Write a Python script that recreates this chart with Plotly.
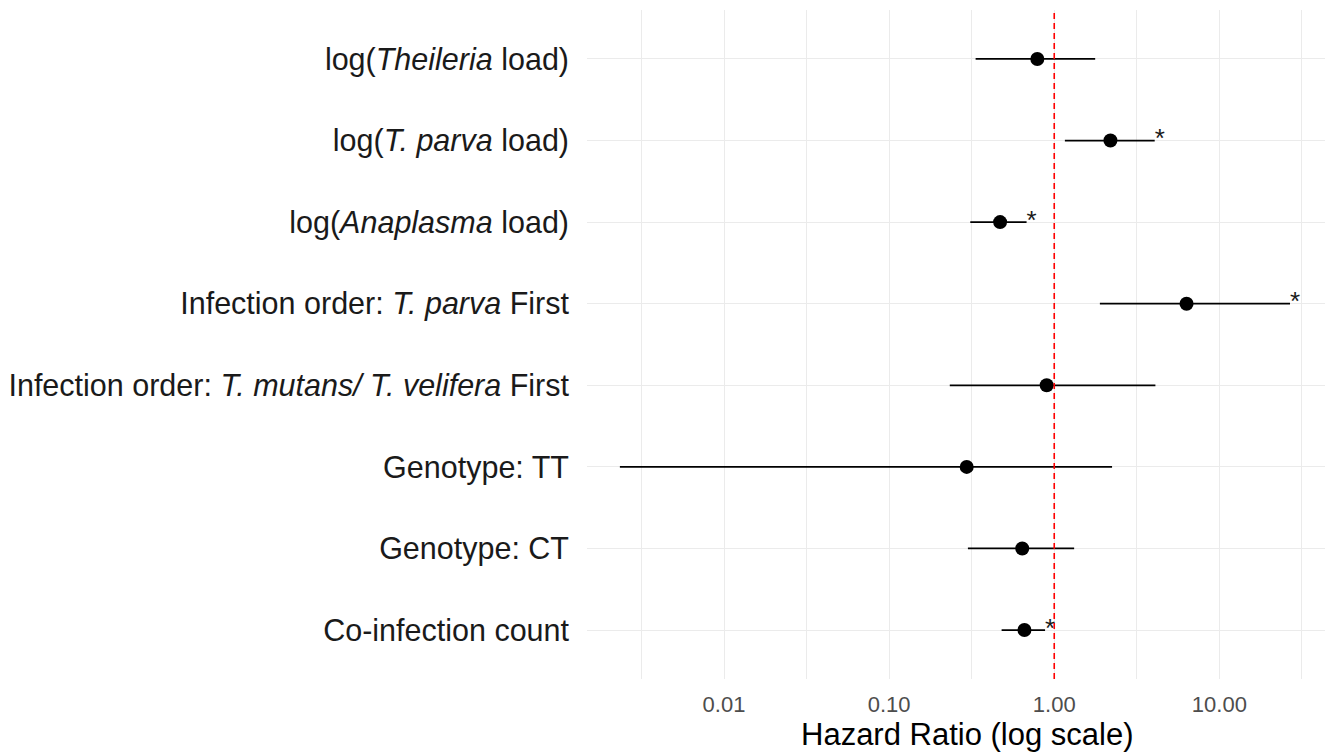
import numpy as np
import plotly.graph_objects as go

# ---- data (top to bottom) ----
labels = [
    "log(<i>Theileria</i> load)",
    "log(<i>T. parva</i> load)",
    "log(<i>Anaplasma</i> load)",
    "Infection order: <i>T. parva</i> First",
    "Infection order: <i>T. mutans/ T. velifera</i> First",
    "Genotype: TT",
    "Genotype: CT",
    "Co-infection count",
]
hr = [0.79, 2.19, 0.47, 6.33, 0.90, 0.295, 0.64, 0.66]
ci_low = [0.334, 1.16, 0.31, 1.89, 0.233, 0.00234, 0.30, 0.48]
ci_high = [1.77, 4.06, 0.68, 26.8, 4.1, 2.24, 1.32, 0.88]
signif = ["", "*", "*", "*", "", "", "", "*"]
tick_vals = [0.01, 0.1, 1, 10]
tick_text = ["0.01", "0.10", "1.00", "10.00"]
x_title = "Hazard Ratio (log scale)"

n = len(labels)
ypos = list(range(n - 1, -1, -1))  # top row first

fig = go.Figure()

# CI lines
xs, ys = [], []
for lo, hi, y in zip(ci_low, ci_high, ypos):
    xs += [lo, hi, None]
    ys += [y, y, None]
fig.add_trace(go.Scatter(x=xs, y=ys, mode="lines",
                         line=dict(color="black", width=1.7),
                         hoverinfo="skip", showlegend=False))

# points
fig.add_trace(go.Scatter(x=hr, y=ypos, mode="markers",
                         marker=dict(color="black", size=14),
                         showlegend=False))

# significance stars
sx = [h for h, s in zip(ci_high, signif) if s]
sy = [y for y, s in zip(ypos, signif) if s]
st = [s for s in signif if s]
fig.add_trace(go.Scatter(x=sx, y=sy, mode="text", text=st,
                         textposition="middle right",
                         textfont=dict(family="Liberation Sans", size=26, color="#1a1a1a"),
                         showlegend=False, hoverinfo="skip"))

# reference line at HR = 1
fig.add_shape(type="line", xref="x", yref="paper", x0=1, x1=1, y0=0, y1=1,
              line=dict(color="red", width=1.6, dash="6px,4px"))

# x-axis title
fig.add_annotation(text=x_title, xref="paper", yref="paper", x=0.516, y=-0.083,
                   xanchor="center", yanchor="middle", showarrow=False,
                   font=dict(family="Liberation Sans", size=31, color="black"))

minor_vals = [10 ** v for v in np.arange(-2.5, 2.0, 1.0)]

fig.update_layout(
    width=1329, height=753,
    margin=dict(l=587, r=4, t=10, b=74),
    plot_bgcolor="white", paper_bgcolor="white",
    font=dict(family="Liberation Sans", color="black"),
    xaxis=dict(
        type="log", range=[-2.83, 1.64],
        tickmode="array", tickvals=tick_vals, ticktext=tick_text,
        tickfont=dict(size=22, color="#4D4D4D"),
        showgrid=True, gridcolor="#EBEBEB", gridwidth=1.3,
        minor=dict(tickmode="array", tickvals=minor_vals, showgrid=True,
                   gridcolor="#EBEBEB", gridwidth=1.1, ticklen=0),
        zeroline=False, showline=False, ticks="",
        ticklabelstandoff=10, automargin=False,
    ),
    yaxis=dict(
        tickmode="array", tickvals=ypos, ticktext=labels,
        tickfont=dict(size=30.5, color="#1a1a1a"),
        range=[-0.6, n - 0.4],
        showgrid=True, gridcolor="#EBEBEB", gridwidth=1.3,
        zeroline=False, showline=False, ticks="",
        ticklabelstandoff=17, automargin=False,
    ),
)

fig.write_html("out.html")
